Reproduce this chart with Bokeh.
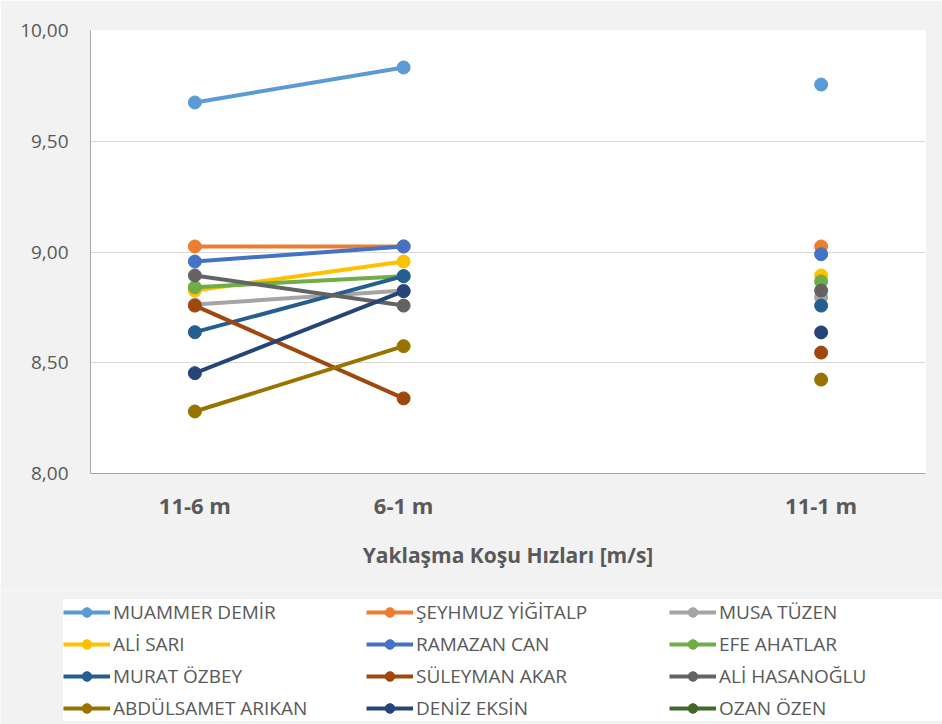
from bokeh.plotting import figure
from bokeh.models import Legend, LegendItem, FixedTicker, Range1d
from bokeh.layouts import column, row
from bokeh.embed import file_html
from bokeh.resources import INLINE

nan = float("nan")

# Categories (third slot is an empty category in the source chart)
categories = ["11-6 m", "6-1 m", "", "11-1 m"]

names = ["MUAMMER DEMİR", "ŞEYHMUZ YİĞİTALP", "MUSA TÜZEN",
         "ALİ SARI", "RAMAZAN CAN", "EFE AHATLAR",
         "MURAT ÖZBEY", "SÜLEYMAN AKAR", "ALİ HASANOĞLU",
         "ABDÜLSAMET ARIKAN", "DENİZ EKSİN", "OZAN ÖZEN"]

colors = ["#5B9BD5", "#ED7D31", "#A5A5A5",
          "#FFC000", "#4472C4", "#70AD47",
          "#255E91", "#9E480E", "#636363",
          "#997300", "#264478", "#43682B"]

muammer_demir = [9.675, 9.833, nan, 9.756]
seyhmuz_yigitalp = [9.025, 9.025, nan, 9.025]
musa_tuzen = [8.763, 8.826, nan, 8.796]
ali_sari = [8.826, 8.957, nan, 8.894]
ramazan_can = [8.957, 9.025, nan, 8.990]
efe_ahatlar = [8.841, 8.891, nan, 8.867]
murat_ozbey = [8.638, 8.891, nan, 8.758]
suleyman_akar = [8.758, 8.339, nan, 8.546]
ali_hasanoglu = [8.894, 8.758, nan, 8.826]
abdulsamet_arikan = [8.280, 8.575, nan, 8.424]
deniz_eksin = [8.453, 8.823, nan, 8.637]
ozan_ozen = [nan, nan, nan, nan]

series = [muammer_demir, seyhmuz_yigitalp, musa_tuzen, ali_sari, ramazan_can,
          efe_ahatlar, murat_ozbey, suleyman_akar, ali_hasanoglu,
          abdulsamet_arikan, deniz_eksin, ozan_ozen]

y_ticks = [8.0, 8.5, 9.0, 9.5, 10.0]

text_color = "#595959"
font = "Open Sans"
bg = "#f2f2f2"

xs = [i + 0.5 for i in range(len(categories))]

# ---------------- main chart ----------------
p = figure(width=942, height=590, output_backend="svg", toolbar_location=None,
           x_range=Range1d(0, len(categories)), y_range=Range1d(8.0, 10.0),
           min_border_left=90, min_border_right=17, min_border_top=30,
           min_border_bottom=117)

p.border_fill_color = bg
p.background_fill_color = "white"
p.outline_line_color = None

for name, col, vals in zip(names, colors, series):
    p.line(xs, vals, line_color=col, line_width=4)
    p.scatter(xs, vals, size=13, fill_color=col, line_color=col)

p.xaxis.ticker = FixedTicker(ticks=xs)
p.xaxis.major_label_overrides = {x: c for x, c in zip(xs, categories)}
p.xaxis.major_label_text_font = font
p.xaxis.major_label_text_font_style = "bold"
p.xaxis.major_label_text_font_size = "22px"
p.xaxis.major_label_text_color = text_color
p.xaxis.major_label_standoff = 10
p.xaxis.major_tick_line_color = None
p.xaxis.minor_tick_line_color = None
p.xaxis.axis_line_color = "#a6a6a6"
p.xaxis.axis_label = "Yaklaşma Koşu Hızları [m/s]"
p.xaxis.axis_label_text_font = font
p.xaxis.axis_label_text_font_style = "bold"
p.xaxis.axis_label_text_font_size = "21px"
p.xaxis.axis_label_text_color = text_color
p.xaxis.axis_label_standoff = 18

p.yaxis.ticker = FixedTicker(ticks=y_ticks)
p.yaxis.major_label_overrides = {t: f"{t:.2f}".replace(".", ",") for t in y_ticks}
p.yaxis.major_label_text_font = font
p.yaxis.major_label_text_font_size = "19px"
p.yaxis.major_label_text_color = text_color
p.yaxis.major_label_standoff = 16
p.yaxis.major_tick_line_color = None
p.yaxis.minor_tick_line_color = None
p.yaxis.axis_line_color = "#a6a6a6"

p.xgrid.grid_line_color = None
p.ygrid.grid_line_color = "#d9d9d9"
p.ygrid.grid_line_width = 1

# ---------------- legend strip ----------------
lg = figure(width=942, height=134, output_backend="svg", toolbar_location=None,
            x_range=Range1d(0, 1), y_range=Range1d(0, 1),
            min_border_left=0, min_border_right=0, min_border_top=0,
            min_border_bottom=0, x_axis_location=None, y_axis_location=None)
lg.border_fill_color = bg
lg.background_fill_color = bg
lg.outline_line_color = None
lg.xgrid.grid_line_color = None
lg.ygrid.grid_line_color = None

items = []
for name, col in zip(names, colors):
    r1 = lg.line(x=[nan], y=[nan], line_color=col, line_width=4)
    r2 = lg.scatter(x=[nan], y=[nan], size=13, fill_color=col, line_color=col)
    items.append(LegendItem(label=name, renderers=[r1, r2]))

legend = Legend(items=items, location=(63, 3), orientation="horizontal", ncols=3,
                glyph_width=47, glyph_height=24, label_standoff=3, label_width=247,
                label_height=20, spacing=6, padding=3, margin=0,
                label_text_font=font, label_text_font_size="19px",
                label_text_color=text_color,
                background_fill_color="white", background_fill_alpha=1.0,
                border_line_color=None)
lg.add_layout(legend, "center")

open("out.html", "w").write(file_html(column(p, row(lg)), INLINE))
